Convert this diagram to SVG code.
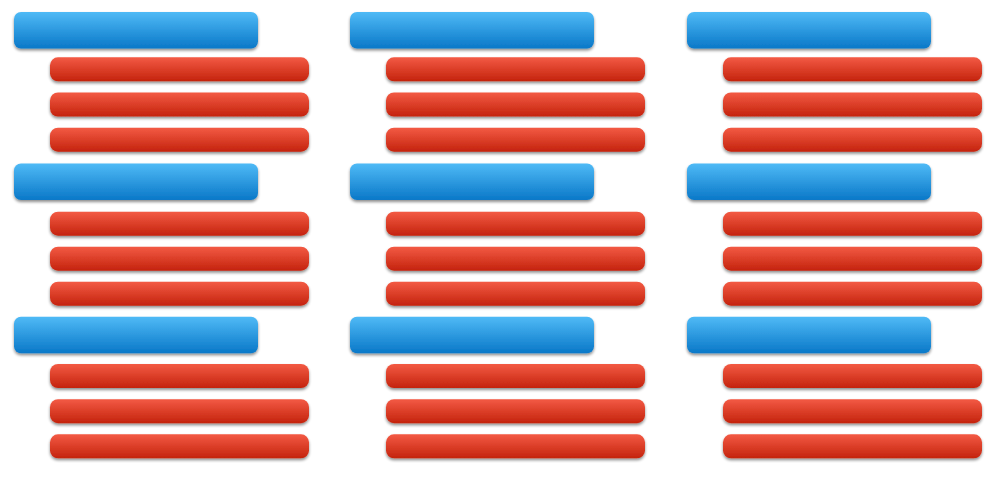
<svg xmlns="http://www.w3.org/2000/svg" width="1000" height="484" viewBox="0 0 1000 484">
<defs>
<linearGradient id="gb" x1="0" y1="0" x2="0" y2="1">
<stop offset="0" stop-color="#4fbaf6"/>
<stop offset="1" stop-color="#0a78c8"/>
</linearGradient>
<linearGradient id="gr" x1="0" y1="0" x2="0" y2="1">
<stop offset="0" stop-color="#f35a44"/>
<stop offset="1" stop-color="#c4230d"/>
</linearGradient>
<filter id="sh" x="-5%" y="-30%" width="110%" height="170%">
<feGaussianBlur in="SourceAlpha" stdDeviation="1.6"/>
<feOffset dx="0" dy="1.5" result="b"/>
<feComponentTransfer><feFuncA type="linear" slope="0.45"/></feComponentTransfer>
<feMerge><feMergeNode/><feMergeNode in="SourceGraphic"/></feMerge>
</filter>
<rect id="blue" x="0" y="0" width="244" height="36.5" rx="7" fill="url(#gb)" filter="url(#sh)"/>
<rect id="red" x="0" y="0" width="259" height="24" rx="8" fill="url(#gr)" filter="url(#sh)"/>
<g id="col">
<use href="#blue" x="0" y="12"/>
<use href="#red" x="36" y="57.3"/>
<use href="#red" x="36" y="92.5"/>
<use href="#red" x="36" y="127.7"/>
<use href="#blue" x="0" y="163.5"/>
<use href="#red" x="36" y="211.7"/>
<use href="#red" x="36" y="246.7"/>
<use href="#red" x="36" y="281.7"/>
<use href="#blue" x="0" y="316.7"/>
<use href="#red" x="36" y="364"/>
<use href="#red" x="36" y="399.2"/>
<use href="#red" x="36" y="434.3"/>
</g>
</defs>
<rect width="1000" height="484" fill="#ffffff"/>
<g id="column1"><use href="#col" x="14" y="0"/></g>
<g id="column2"><use href="#col" x="350" y="0"/></g>
<g id="column3"><use href="#col" x="687" y="0"/></g>
<g id="connectors"/>
</svg>
